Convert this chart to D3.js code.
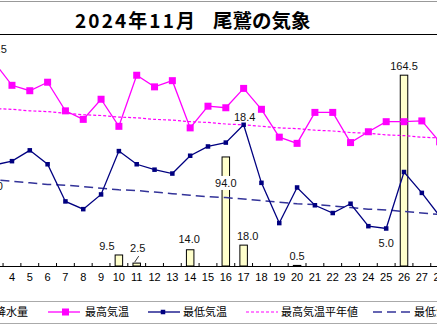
<!DOCTYPE html>
<html>
<head>
<meta charset="utf-8">
<script src="https://cdn.jsdelivr.net/npm/d3@7"></script>
<style>
  body { margin: 0; background: #fff; }
  svg { display: block; }
</style>
</head>
<body>
<svg id="chart" width="437" height="328"></svg>
<script>
// daily values, Nov 1..30
const days = d3.range(1, 31);
const rain = [22.0, 118.0, 61.0, 0, 0, 0, 0, 0, 0, 9.5,
              2.5, 0, 0, 14.0, 0, 94.0, 18.0, 0, 0, 0.5,
              0, 0, 0, 0, 0, 164.5, 0, 0, 0, 0];
const maxTemp = [24.0, 25.0, 26.5, 23.5, 22.8, 23.9, 20.2, 19.1, 21.7, 18.2,
                 24.8, 23.3, 24.1, 18.0, 20.8, 20.6, 23.1, 20.4, 16.8, 16.0,
                 20.0, 20.0, 16.1, 17.5, 18.8, 18.8, 18.9, 16.2, 15.0, 14.6];
const minTemp = [15.2, 14.6, 13.2, 13.7, 15.1, 13.3, 8.5, 7.5, 9.4, 15.0,
                 13.3, 12.6, 12.1, 14.4, 15.6, 16.1, 18.4, 10.9, 5.7, 10.3,
                 8.0, 7.0, 8.2, 5.3, 5.0, 12.3, 9.6, 6.6, 7.0, 6.0];
const maxNormal = [20.8, 20.7, 20.5, 20.4, 20.2, 20.1, 19.9, 19.7, 19.6, 19.4,
                   19.3, 19.1, 19.0, 18.8, 18.7, 18.5, 18.4, 18.2, 18.0, 17.9,
                   17.7, 17.6, 17.4, 17.3, 17.1, 17.0, 16.8, 16.7, 16.5, 16.3];
const minNormal = [11.6, 11.5, 11.3, 11.1, 10.9, 10.7, 10.6, 10.4, 10.2, 10.0,
                   9.9, 9.7, 9.5, 9.3, 9.1, 9.0, 8.8, 8.6, 8.4, 8.2,
                   8.1, 7.9, 7.7, 7.5, 7.4, 7.2, 7.0, 6.8, 6.6, 6.5];
const legendNames = ["降水量", "最高気温", "最低気温", "最高気温平年値", "最低気温平年値"];

const svg = d3.select("#chart");
const plotTop = 34, plotBottom = 266;
const numFont = "'Liberation Sans', Arial, sans-serif";
const jpFont = "'Noto Sans CJK JP', sans-serif";

const x = d3.scaleBand().domain(days).range([-50.4, 484.2]);
const cx = d => x(d) + x.bandwidth() / 2;
const yRain = d3.scaleLinear().domain([0, 200]).range([plotBottom, plotTop]);
const yTemp = d3.scaleLinear().domain([0, 30]).range([plotBottom + 1.2, plotTop + 1]);

// chart frame
svg.append("line").attr("x1", 0).attr("x2", 437).attr("y1", 1.5).attr("y2", 1.5)
  .attr("stroke", "#999").attr("stroke-width", 1);
svg.append("line").attr("x1", 0).attr("x2", 437).attr("y1", plotTop + 0.5).attr("y2", plotTop + 0.5)
  .attr("stroke", "#000").attr("stroke-width", 1.2);

// title
svg.append("text").attr("x", 75).attr("y", 28)
  .attr("font-family", jpFont).attr("font-weight", "bold").attr("font-size", 19)
  .attr("textLength", 120).attr("lengthAdjust", "spacing")
  .text("2024年11月");
svg.append("text").attr("x", 213).attr("y", 28)
  .attr("font-family", jpFont).attr("font-weight", "bold").attr("font-size", 19.5)
  .text("尾鷲の気象");

// rain bars
const rainDays = days.filter((d, i) => rain[i] > 0);
const bw = 7.5;
svg.append("g").selectAll("rect").data(rainDays).join("rect")
  .attr("x", d => cx(d) - bw / 2)
  .attr("y", d => yRain(rain[d - 1]))
  .attr("width", bw)
  .attr("height", d => plotBottom - yRain(rain[d - 1]))
  .attr("fill", "#FFFFCC").attr("stroke", "#000").attr("stroke-width", 1);

// normal lines
const line = arr => d3.line().x(d => cx(d)).y(d => yTemp(arr[d - 1]))(days);
svg.append("path").attr("d", line(maxNormal)).attr("fill", "none")
  .attr("stroke", "#FF00FF").attr("stroke-width", 1.2).attr("stroke-dasharray", "3,2");
svg.append("path").attr("d", line(minNormal)).attr("fill", "none")
  .attr("stroke", "#333399").attr("stroke-width", 1.5).attr("stroke-dasharray", "9,5");

// daily temperature lines
svg.append("path").attr("d", line(maxTemp)).attr("fill", "none")
  .attr("stroke", "#FF00FF").attr("stroke-width", 1.3);
svg.append("g").selectAll("rect").data(days).join("rect")
  .attr("x", d => cx(d) - 3.5).attr("y", d => yTemp(maxTemp[d - 1]) - 3.5)
  .attr("width", 7).attr("height", 7).attr("fill", "#FF00FF");

svg.append("path").attr("d", line(minTemp)).attr("fill", "none")
  .attr("stroke", "#000080").attr("stroke-width", 1.3);
svg.append("g").selectAll("path").data(days).join("path")
  .attr("d", d3.symbol(d3.symbolDiamond2, 26))
  .attr("transform", d => `translate(${cx(d)},${yTemp(minTemp[d - 1])}) rotate(45)`)
  .attr("fill", "#000080");

// x axis
svg.append("line").attr("x1", 0).attr("x2", 437).attr("y1", plotBottom + 0.5).attr("y2", plotBottom + 0.5)
  .attr("stroke", "#000").attr("stroke-width", 1.2);
const bounds = d3.range(0, 31).map(i => x.range()[0] + i * x.step());
svg.append("g").selectAll("line").data(bounds).join("line")
  .attr("x1", d => d).attr("x2", d => d)
  .attr("y1", plotBottom - 3).attr("y2", plotBottom)
  .attr("stroke", "#000").attr("stroke-width", 1);
svg.append("g").selectAll("text").data(days.filter(d => cx(d) > 0)).join("text")
  .attr("x", d => cx(d)).attr("y", 281)
  .attr("text-anchor", "middle").attr("font-family", numFont).attr("font-size", 11)
  .text(d => d);

// data labels
function label(px, py, txt, bg) {
  if (bg) {
    svg.append("rect").attr("x", px - 12).attr("y", py - 7).attr("width", 24).attr("height", 14)
      .attr("fill", "#fff");
  }
  svg.append("text").attr("x", px).attr("y", py + 4)
    .attr("text-anchor", "middle").attr("font-family", numFont).attr("font-size", 11)
    .attr("fill", "#111").text(txt);
}
const rainLabelOffset = {3: [-2, -9], 10: [-12, -9], 11: [1, -15], 14: [-1, -11], 16: [0, 26],
                         17: [4, -9], 20: [0, -9], 26: [0, -9]};
rainDays.forEach(d => {
  const [dx, dy] = rainLabelOffset[d] || [0, -9];
  label(cx(d) + dx, yRain(rain[d - 1]) + dy, rain[d - 1].toFixed(1), d === 16);
});
// leader for the small day-11 bar
svg.append("path")
  .attr("d", `M${cx(11) - 2},${yRain(rain[10]) - 1} L${cx(11) + 2},${yRain(rain[10]) - 7}`)
  .attr("stroke", "#000").attr("stroke-width", 0.8).attr("fill", "none");

// temperature extremes
label(cx(3) + 2, yTemp(maxTemp[2]) - 13, maxTemp[2].toFixed(1));
label(cx(17) + 1, yTemp(minTemp[16]) - 8, minTemp[16].toFixed(1));
label(cx(25), yTemp(minTemp[24]) + 14, minTemp[24].toFixed(1));

// legend
svg.append("line").attr("x1", 0).attr("x2", 437).attr("y1", 301.5).attr("y2", 301.5)
  .attr("stroke", "#aaa");
svg.append("line").attr("x1", 0).attr("x2", 437).attr("y1", 323.5).attr("y2", 323.5)
  .attr("stroke", "#aaa");
const lg = svg.append("g").attr("font-family", jpFont).attr("font-size", 11);
const ly = 312;
lg.append("rect").attr("x", -24).attr("y", ly - 4).attr("width", 12).attr("height", 8)
  .attr("fill", "#FFFFCC").attr("stroke", "#000");
lg.append("text").attr("x", -5).attr("y", ly + 4).text(legendNames[0]);

lg.append("line").attr("x1", 48).attr("x2", 80).attr("y1", ly).attr("y2", ly)
  .attr("stroke", "#FF00FF").attr("stroke-width", 1.3);
lg.append("rect").attr("x", 62).attr("y", ly - 3.5).attr("width", 7).attr("height", 7).attr("fill", "#FF00FF");
lg.append("text").attr("x", 85).attr("y", ly + 4).text(legendNames[1]);

lg.append("line").attr("x1", 148).attr("x2", 180).attr("y1", ly).attr("y2", ly)
  .attr("stroke", "#000080").attr("stroke-width", 1.3);
lg.append("path").attr("d", d3.symbol(d3.symbolDiamond2, 26))
  .attr("transform", `translate(163,${ly}) rotate(45)`).attr("fill", "#000080");
lg.append("text").attr("x", 183).attr("y", ly + 4).text(legendNames[2]);

lg.append("line").attr("x1", 246).attr("x2", 278).attr("y1", ly).attr("y2", ly)
  .attr("stroke", "#FF00FF").attr("stroke-width", 1.2).attr("stroke-dasharray", "3,2");
lg.append("text").attr("x", 281).attr("y", ly + 4).text(legendNames[3]);

lg.append("line").attr("x1", 373).attr("x2", 411).attr("y1", ly).attr("y2", ly)
  .attr("stroke", "#333399").attr("stroke-width", 1.5).attr("stroke-dasharray", "9,5");
lg.append("text").attr("x", 414).attr("y", ly + 4).text(legendNames[4]);
</script>
</body>
</html>
